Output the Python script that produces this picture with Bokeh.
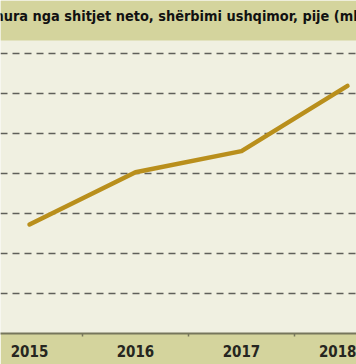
from bokeh.plotting import figure
from bokeh.models import Range1d, FixedTicker, BoxAnnotation, Label, ColumnDataSource
from bokeh.embed import file_html
from bokeh.resources import INLINE

# ---- data ----
years = ["2015", "2016", "2017", "2018"]
values = [27.25, 40.3, 45.6, 61.9]
title_text = "Të ardhura nga shitjet neto, shërbimi ushqimor, pije (mln lekë)"
grid_values = [10, 20, 30, 40, 50, 60, 70]

BAND = "#d4d49d"
BG = "#f0f0e1"
LINE = "#b98f1c"
AXIS = "#76765c"
FONT = "'DejaVu Sans Condensed', 'Liberation Sans Narrow', sans-serif"

xs = list(range(len(years)))
src = ColumnDataSource(dict(x=xs, y=values))

p = figure(width=356, height=364, output_backend="svg", toolbar_location=None,
           x_range=Range1d(-0.2736, 3.085), y_range=Range1d(0, 83.25),
           min_border_left=0, min_border_right=0, min_border_top=0, min_border_bottom=31)
p.background_fill_color = BG
p.border_fill_color = BAND
p.outline_line_color = None

p.yaxis.visible = False
p.xgrid.visible = False
p.ygrid.ticker = FixedTicker(ticks=grid_values)
p.ygrid.grid_line_color = "#5f5f5a"
p.ygrid.grid_line_width = 1.5
p.ygrid.grid_line_dash = "7 5"

ax = p.xaxis[0]
ax.ticker = FixedTicker(ticks=xs, minor_ticks=[0.5, 1.5, 2.5])
ax.major_label_overrides = {i: y for i, y in zip(xs, years)}
ax.axis_line_color = AXIS
ax.axis_line_width = 2
ax.major_tick_line_color = None
ax.minor_tick_line_color = AXIS
ax.minor_tick_line_width = 1.5
ax.minor_tick_in = 0
ax.minor_tick_out = 3
ax.major_label_standoff = 5
ax.major_label_text_font = FONT
ax.major_label_text_font_style = "bold"
ax.major_label_text_font_size = "15px"
ax.major_label_text_color = "#262620"

p.add_layout(BoxAnnotation(bottom=73.25, fill_color=BAND, fill_alpha=1, line_color=None))
p.add_layout(Label(x=(-0.2736 + 3.085) / 2, y=79.4, text=title_text, text_align="center",
                   text_baseline="alphabetic", text_font=FONT, text_font_style="bold",
                   text_font_size="14.4px", text_color="#111111"))

p.line("x", "y", source=src, line_color=LINE, line_width=4.5,
       line_cap="round", line_join="round")

open("out.html", "w").write(file_html(p, INLINE))
